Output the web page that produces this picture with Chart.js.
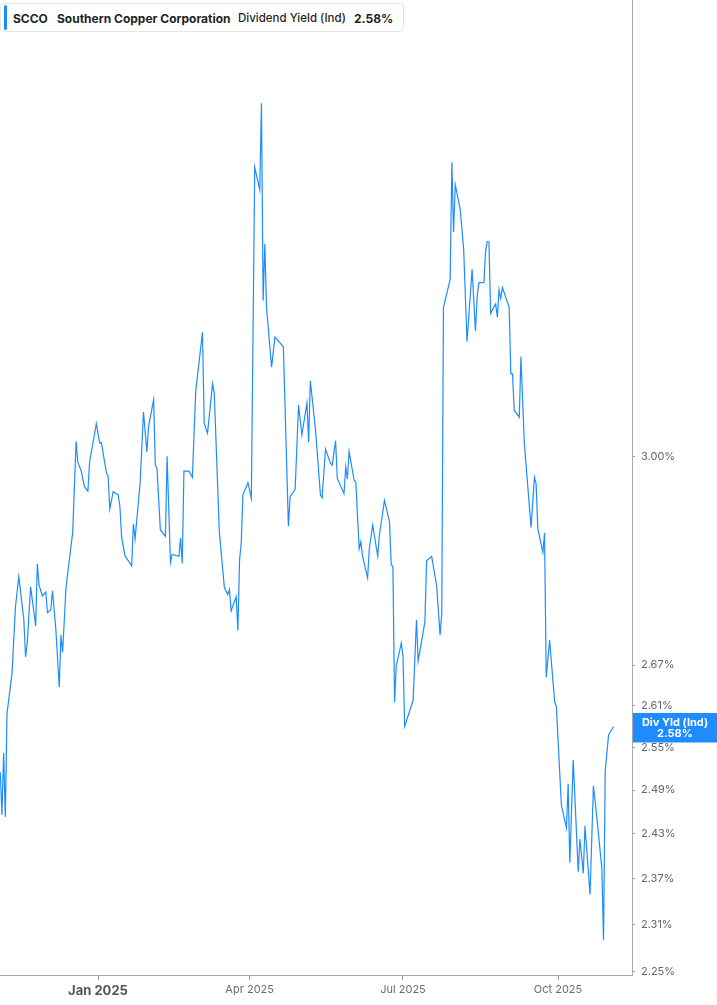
<!DOCTYPE html>
<html>
<head>
<meta charset="utf-8">
<script src="https://cdn.jsdelivr.net/npm/chart.js@4.4.1/dist/chart.umd.min.js"></script>
<style>
html,body{margin:0;padding:0;background:#fff;}
#wrap{position:relative;width:717px;height:1005px;overflow:hidden;}
#c{position:absolute;left:0;top:0;}
#hdr{position:absolute;left:0;top:3px;width:404px;height:29px;border:1px solid #e6e6e6;border-radius:4px;background:#fff;box-sizing:border-box;font-family:Inter,"Noto Sans",sans-serif;font-size:12px;color:#1f1f1f;}
#hdr .bar{position:absolute;left:3px;top:1px;width:3px;height:25px;background:#1e8cff;border-radius:2px;}
#hdr span{position:absolute;top:50%;transform:translateY(-50%);white-space:nowrap;}
</style>
</head>
<body>
<div id="wrap">
<canvas id="c" width="717" height="1005"></canvas>
<div id="hdr"><div class="bar"></div><span id="h1" style="left:12px;font-weight:700"></span><span id="h2" style="left:56px;font-weight:700"></span><span id="h3" style="left:237px;font-weight:500;font-size:11.5px"></span><span id="h4" style="left:353px;font-weight:700"></span></div>
</div>
<script>
// ---- data ----
const ticker = 'SCCO';
const company = 'Southern Copper Corporation';
const metric = 'Dividend Yield (Ind)';
const seriesName = 'Div Yld (Ind)';

const dates = [
'2024-11-04','2024-11-05','2024-11-06','2024-11-07','2024-11-08','2024-11-11','2024-11-13','2024-11-15','2024-11-18','2024-11-19',
'2024-11-20','2024-11-22','2024-11-24','2024-11-25','2024-11-26','2024-11-27','2024-11-29','2024-12-01','2024-12-02','2024-12-04',
'2024-12-05','2024-12-07','2024-12-09','2024-12-10','2024-12-11','2024-12-13','2024-12-17','2024-12-19','2024-12-20','2024-12-22',
'2024-12-24','2024-12-26','2024-12-27','2024-12-31','2025-01-02','2025-01-03','2025-01-06','2025-01-07','2025-01-08','2025-01-10',
'2025-01-13','2025-01-14','2025-01-15','2025-01-17','2025-01-21','2025-01-22','2025-01-23','2025-01-26','2025-01-28','2025-01-30',
'2025-01-31','2025-02-03','2025-02-04','2025-02-05','2025-02-07','2025-02-10','2025-02-11','2025-02-13','2025-02-14','2025-02-18',
'2025-02-19','2025-02-20','2025-02-21','2025-02-24','2025-02-26','2025-02-28','2025-03-04','2025-03-05','2025-03-07','2025-03-10',
'2025-03-11','2025-03-14','2025-03-17','2025-03-19','2025-03-20','2025-03-21','2025-03-24','2025-03-25','2025-03-26','2025-03-27',
'2025-03-28','2025-03-31','2025-04-02','2025-04-04','2025-04-07','2025-04-08','2025-04-09','2025-04-10','2025-04-11','2025-04-14',
'2025-04-16','2025-04-21','2025-04-24','2025-04-25','2025-04-28','2025-04-30','2025-05-02','2025-05-05','2025-05-06','2025-05-07',
'2025-05-10','2025-05-13','2025-05-14','2025-05-16','2025-05-19','2025-05-20','2025-05-22','2025-05-23','2025-05-27','2025-05-28',
'2025-05-29','2025-05-30','2025-06-02','2025-06-03','2025-06-05','2025-06-06','2025-06-07','2025-06-10','2025-06-11','2025-06-13',
'2025-06-16','2025-06-17','2025-06-20','2025-06-23','2025-06-24','2025-06-25','2025-06-26','2025-06-27','2025-06-30','2025-07-01',
'2025-07-02','2025-07-07','2025-07-09','2025-07-10','2025-07-14','2025-07-15','2025-07-18','2025-07-21','2025-07-23','2025-07-24',
'2025-07-25','2025-07-29','2025-07-30','2025-07-31','2025-08-01','2025-08-04','2025-08-06','2025-08-08','2025-08-11','2025-08-13',
'2025-08-14','2025-08-15','2025-08-18','2025-08-19','2025-08-20','2025-08-21','2025-08-22','2025-08-25','2025-08-26','2025-08-27',
'2025-08-28','2025-08-29','2025-09-02','2025-09-03','2025-09-04','2025-09-05','2025-09-08','2025-09-09','2025-09-11','2025-09-15',
'2025-09-17','2025-09-18','2025-09-19','2025-09-22','2025-09-23','2025-09-24','2025-09-26','2025-09-29','2025-09-30','2025-10-03',
'2025-10-06','2025-10-07','2025-10-08','2025-10-10','2025-10-13','2025-10-14','2025-10-16','2025-10-17','2025-10-20','2025-10-22',
'2025-10-24','2025-10-27','2025-10-28','2025-10-29','2025-10-31','2025-11-03'
];

const yields = [
2.515,2.456,2.542,2.453,2.599,2.658,2.758,2.805,2.738,2.682,
2.703,2.789,2.749,2.729,2.825,2.792,2.775,2.781,2.749,2.754,
2.783,2.723,2.637,2.715,2.689,2.788,2.876,3.025,2.990,2.976,
2.949,2.942,2.990,3.055,3.022,3.023,2.972,2.967,2.913,2.941,
2.936,2.917,2.868,2.838,2.822,2.889,2.865,2.956,3.075,3.007,
3.050,3.096,2.985,2.980,2.879,2.869,3.000,2.827,2.840,2.837,
2.866,2.826,2.975,2.975,2.965,3.111,3.215,3.056,3.039,3.124,
3.107,2.876,2.788,2.777,2.785,2.752,2.774,2.722,2.831,2.859,
2.936,2.956,2.930,3.525,3.481,3.653,3.272,3.377,3.260,3.153,
3.206,3.189,2.885,2.933,2.945,3.087,3.036,3.090,3.024,3.129,
3.047,2.936,2.931,3.012,2.988,2.985,3.026,2.963,2.938,2.982,
2.962,3.008,2.960,2.957,2.849,2.860,2.837,2.803,2.849,2.887,
2.837,2.871,2.927,2.892,2.824,2.821,2.615,2.669,2.703,2.683,
2.580,2.618,2.738,2.676,2.735,2.830,2.837,2.790,2.715,2.747,
3.260,3.311,3.535,3.400,3.491,3.442,3.367,3.198,3.330,3.217,
3.279,3.305,3.305,3.363,3.382,3.381,3.249,3.266,3.242,3.292,
3.276,3.296,3.260,3.141,3.141,3.078,3.066,3.171,3.022,2.883,
2.965,2.954,2.881,2.843,2.874,2.652,2.707,2.616,2.609,2.469,
2.438,2.499,2.391,2.532,2.379,2.423,2.377,2.441,2.349,2.496,
2.453,2.384,2.290,2.516,2.568,2.580
];

const xTickDates = ['2025-01-01','2025-04-01','2025-07-01','2025-10-01'];
const xTickLabels = ['Jan 2025','Apr 2025','Jul 2025','Oct 2025'];
const yTickValues = [3.00,2.67,2.61,2.55,2.49,2.43,2.37,2.31,2.25];

// ---- build ----
const lastVal = yields[yields.length-1];
document.getElementById('h1').textContent = ticker;
document.getElementById('h2').textContent = company;
document.getElementById('h3').textContent = metric;
document.getElementById('h4').textContent = lastVal.toFixed(2) + '%';

const DAY = 86400000, T0 = Date.parse('2025-01-01');
const toDay = s => (Date.parse(s) - T0) / DAY;
const pts = dates.map((d, i) => ({x: toDay(d), y: yields[i]}));
const xTicks = xTickDates.map(toDay);

const BLUE = '#1e8cff';
const FONT = 'Inter';

const tagPlugin = {
  id: 'tag',
  afterDraw(chart) {
    const ys = chart.scales.y, ctx = chart.ctx;
    const py = ys.getPixelForValue(lastVal);
    const x0 = ys.left + 1, w = chart.width - x0;
    ctx.save();
    ctx.fillStyle = BLUE;
    ctx.fillRect(x0, py - 13.5, w, 29.5);
    ctx.fillStyle = '#ffffff';
    ctx.font = '700 11px ' + FONT;
    ctx.textAlign = 'center';
    ctx.textBaseline = 'middle';
    ctx.fillText(seriesName, x0 + w / 2, py - 3.5);
    ctx.fillText(lastVal.toFixed(2) + '%', x0 + w / 2, py + 7.5);
    ctx.restore();
  }
};

new Chart(document.getElementById('c'), {
  type: 'line',
  data: {datasets: [{data: pts, borderColor: BLUE, borderWidth: 1.2, pointRadius: 0, tension: 0, fill: false}]},
  options: {
    responsive: false,
    animation: false,
    layout: {padding: 0},
    plugins: {legend: {display: false}, tooltip: {enabled: false}},
    scales: {
      x: {
        type: 'linear', position: 'bottom', min: -58.16, max: 316.9, bounds: 'data',
        afterBuildTicks: s => { s.ticks = xTicks.map(v => ({value: v})); },
        afterFit: s => { s.height = 30; s.paddingLeft = 0; s.paddingRight = 0; },
        grid: {drawOnChartArea: false, drawTicks: true, tickLength: 5, color: '#9a9a9a'},
        border: {color: '#a8a8a8', width: 1},
        ticks: {
          padding: 3, autoSkip: false, maxRotation: 0,
          callback: v => { const i = xTicks.indexOf(v); return i >= 0 ? xTickLabels[i] : ''; },
          font: c => c.index === 0 ? {family: FONT, size: 13, weight: '700'} : {family: FONT, size: 11},
          color: c => c.index === 0 ? '#555555' : '#6b6b6b'
        }
      },
      y: {
        type: 'logarithmic', position: 'right', min: 2.2459, max: 3.8698, bounds: 'data',
        afterBuildTicks: s => { s.ticks = yTickValues.map(v => ({value: v})); },
        afterFit: s => { s.width = 85; s.paddingTop = 0; s.paddingBottom = 0; },
        grid: {drawOnChartArea: false, drawTicks: true, tickLength: 3, color: '#9a9a9a'},
        border: {color: '#a8a8a8', width: 1},
        ticks: {
          padding: 6, autoSkip: false,
          font: {family: FONT, size: 11}, color: '#666666',
          callback: v => Number(v).toFixed(2) + '%'
        }
      }
    }
  },
  plugins: [tagPlugin]
});
</script>
</body>
</html>
